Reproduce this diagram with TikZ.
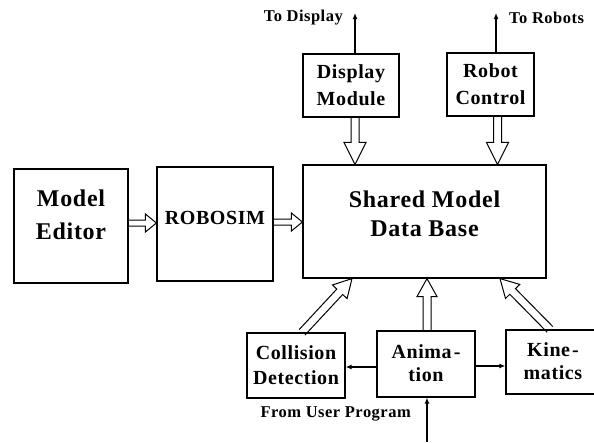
\documentclass[tikz,border=0pt]{standalone}
\usepackage{fontspec}
\setmainfont{Liberation Serif}[LetterSpace=3]
\usetikzlibrary{calc,arrows.meta}

% outlined block arrow from #1 to #2:
% #3 shaft half-width, #4 head half-width, #5 head length
\newcommand{\hollowarrow}[5]{%
  \path ($(#2)!#5!(#1)$) coordinate (ha-base);
  \draw[hollow]
    ($(#1)!#3!90:(#2)$) -- ($(ha-base)!#3!90:(#2)$) --
    ($(ha-base)!#4!90:(#2)$) -- (#2) --
    ($(ha-base)!#4!-90:(#2)$) -- ($(ha-base)!#3!-90:(#2)$) --
    ($(#1)!#3!-90:(#2)$);
}

\tikzset{
  box/.style={draw, line width=1.2pt, inner sep=0pt},
  bigtxt/.style={font=\bfseries\fontsize{24}{31}\selectfont, align=center, inner sep=0pt},
  midtxt/.style={font=\bfseries\fontsize{20}{25}\selectfont, align=center, inner sep=0pt},
  lbl/.style={font=\bfseries\fontsize{16.5}{18}\selectfont, inner sep=0pt},
  hollow/.style={line width=1pt, line join=miter},
  thin/.style={line width=1.8pt, -{Latex[length=6pt,width=5pt]}},
}

\begin{document}
\begin{tikzpicture}[x=1pt, y=-1pt]
\useasboundingbox (0,0) rectangle (594,442);
\clip (0,0) rectangle (594,442);

% blocks
\node[box, minimum width=114pt, minimum height=114pt] (me) at (71,226) {};
\node[box, minimum width=116pt, minimum height=114pt] (rs) at (215,224) {};
\node[box, minimum width=243pt, minimum height=113pt] (db) at (424.5,221.5) {};
\node[box, minimum width=96pt, minimum height=63pt] (dm) at (351,85.5) {};
\node[box, minimum width=87pt, minimum height=63pt] (rc) at (490.5,84.5) {};
\node[box, minimum width=98pt, minimum height=65pt] (cd) at (296,365.5) {};
\node[box, minimum width=98pt, minimum height=66pt] (an) at (426,364) {};
\node[box, minimum width=94pt, minimum height=64pt] (ki) at (553,362) {};

% block texts
\node[bigtxt, font=\bfseries\fontsize{24}{33}\selectfont] (me-t) at ([yshift=11pt]me.center) {Model\\Editor};
\node[midtxt] (rs-t) at ([yshift=6pt]rs.center) {ROBOSIM};
\node[bigtxt, font=\bfseries\fontsize{24}{29}\selectfont] (db-t) at ([yshift=8pt]db.center) {Shared Model\\Data Base};
\node[midtxt, font=\bfseries\fontsize{20}{27}\selectfont] (dm-t) at (dm.center) {Display\\Module};
\node[midtxt, font=\bfseries\fontsize{20}{27}\selectfont] (rc-t) at (rc.center) {Robot\\Control};
\node[midtxt] (cd-t) at (cd.center) {Collision\\Detection};
\node[midtxt, font=\bfseries\fontsize{20}{23}\selectfont] (an-t) at ([yshift=1pt]an.center) {Anima\kern2pt-\\tion};
\node[midtxt, font=\bfseries\fontsize{20}{23}\selectfont] (ki-t) at ([yshift=1pt]ki.center) {Kine\kern2pt-\\matics};

% connector end points
\coordinate (dm-out) at ([xshift=4pt]dm.north);
\coordinate (dm-top) at (355,13);
\coordinate (rc-out) at ([xshift=5.5pt]rc.north);
\coordinate (rc-top) at (496,13);
\coordinate (dm-down) at ([xshift=4pt]dm.south);
\coordinate (db-in1) at (dm-down |- db.north);
\coordinate (rc-down) at ([xshift=7pt]rc.south);
\coordinate (db-in2) at (rc-down |- db.north);
\coordinate (me-out) at ([yshift=3pt]me.east);
\coordinate (rs-in) at (me-out -| rs.west);
\coordinate (rs-out) at ([yshift=2pt]rs.east);
\coordinate (db-in0) at (rs-out -| db.west);
\coordinate (cd-up) at ([xshift=6pt]cd.north);
\coordinate (db-in3) at ([xshift=-72.5pt]db.south);
\coordinate (an-up) at ([xshift=1pt]an.north);
\coordinate (db-in4) at (an-up |- db.south);
\coordinate (ki-up) at ([xshift=-3pt]ki.north);
\coordinate (db-in5) at ([xshift=75.5pt]db.south);
\coordinate (an-w) at ([yshift=-3pt]an.west);
\coordinate (cd-e) at (an-w -| cd.east);
\coordinate (an-e) at ([yshift=-2pt]an.east);
\coordinate (ki-w) at (an-e -| ki.west);
\coordinate (user) at (427,442);
\coordinate (an-in) at (user |- an.south);

% block arrows
\hollowarrow{me-out}{rs-in}{3pt}{9pt}{11pt}
\hollowarrow{rs-out}{db-in0}{3pt}{9pt}{11pt}
\hollowarrow{dm-down}{db-in1}{4pt}{11pt}{22pt}
\hollowarrow{rc-down}{db-in2}{4pt}{11pt}{22pt}
\hollowarrow{cd-up}{db-in3}{4pt}{10pt}{18pt}
\hollowarrow{an-up}{db-in4}{4pt}{10pt}{18pt}
\hollowarrow{ki-up}{db-in5}{4pt}{10pt}{18pt}

% signal arrows
\draw[thin] (dm-out) -- (dm-top);
\draw[thin] (rc-out) -- (rc-top);
\draw[thin] (an-w) -- (cd-e);
\draw[thin] (an-e) -- (ki-w);
\draw[thin] (user) -- (an-in);

% external labels
\node[lbl, anchor=east] (l-disp) at (343,18) {To Display};
\node[lbl, anchor=west] (l-rob) at (509,18) {To Robots};
\node[lbl, anchor=east] (l-user) at (411,414) {From User Program};
\end{tikzpicture}
\end{document}
